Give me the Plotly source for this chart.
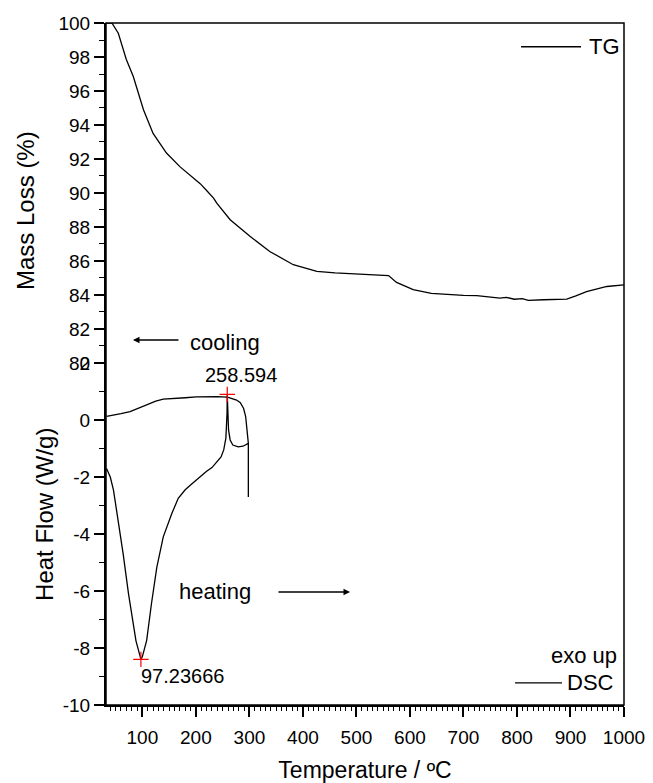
import plotly.graph_objects as go

# ---------------- data ----------------
tg_temp = [32, 43, 55, 70, 83, 102, 120, 145, 170, 190, 208, 220, 233, 239, 264, 301, 338, 382,
           426, 460, 494, 530, 560, 575, 606, 640, 675, 700, 725, 745, 768, 780, 795, 810, 821,
           850, 870, 893, 910, 930, 968, 1000]
tg_mass = [100.0, 100.0, 99.4, 97.85, 96.85, 94.9, 93.5, 92.35, 91.55, 91.05, 90.55, 90.15, 89.7,
           89.4, 88.43, 87.45, 86.56, 85.78, 85.39, 85.3, 85.24, 85.2, 85.14, 84.74, 84.31, 84.1,
           84.02, 83.98, 83.96, 83.9, 83.82, 83.86, 83.75, 83.78, 83.68, 83.72, 83.74, 83.76,
           83.95, 84.2, 84.5, 84.6]

dsc_heat_temp = [33, 40, 46, 55, 64, 74, 83, 88, 92, 95, 97.24, 100, 103, 108, 117, 127, 139, 155,
                 167, 180, 190, 200, 210, 220, 230, 240, 247, 252, 256, 258.2, 258.594, 261, 264,
                 269, 279, 288, 295, 298, 298]
dsc_heat_hf = [-1.70, -2.0, -2.46, -3.51, -4.69, -6.09, -7.26, -7.75, -8.03, -8.25, -8.4, -8.3,
               -8.1, -7.73, -6.44, -5.16, -4.1, -3.28, -2.75, -2.45, -2.28, -2.12, -1.93, -1.8,
               -1.67, -1.45, -1.3, -1.05, -0.64, 0.24, 0.9, -0.35, -0.70, -0.88, -0.94, -0.92,
               -0.85, -0.82, -2.7]

dsc_cool_temp = [298, 296, 293, 289, 283, 276, 270, 259, 240, 220, 201, 180, 160, 139, 125, 114,
                 100, 90, 77, 60, 45, 33]
dsc_cool_hf = [-0.82, -0.5, 0.12, 0.41, 0.61, 0.70, 0.74, 0.80, 0.82, 0.82, 0.81, 0.78, 0.76,
               0.73, 0.66, 0.58, 0.47, 0.38, 0.29, 0.22, 0.17, 0.13]

peak_temp = [258.594, 97.23666]
peak_hf = [0.9, -8.4]
peak_labels = ["258.594", "97.23666"]

x_ticks = [100, 200, 300, 400, 500, 600, 700, 800, 900, 1000]
tg_ticks = [80, 82, 84, 86, 88, 90, 92, 94, 96, 98, 100]
hf_ticks = [-10, -8, -6, -4, -2, 0, 2]
hf_ticktext = ["-10", "-8", "-6", "-4", "-2", "0", "2"]

FONT = "Liberation Sans, Arial, sans-serif"
LINE = dict(color="black", width=1.3)

fig = go.Figure()
fig.add_trace(go.Scatter(x=tg_temp, y=tg_mass, mode="lines", line=LINE,
                         xaxis="x", yaxis="y", name="TG", showlegend=False))
fig.add_trace(go.Scatter(x=dsc_heat_temp, y=dsc_heat_hf, mode="lines", line=LINE,
                         xaxis="x", yaxis="y2", name="DSC", showlegend=False))
fig.add_trace(go.Scatter(x=dsc_cool_temp, y=dsc_cool_hf, mode="lines", line=LINE,
                         xaxis="x", yaxis="y2", name="DSC cooling", showlegend=False))
fig.add_trace(go.Scatter(x=peak_temp, y=peak_hf, mode="markers",
                         marker=dict(symbol="cross-thin", size=11, color="red",
                                     line=dict(color="red", width=1.2)),
                         xaxis="x", yaxis="y2", showlegend=False))

split = 0.5015
tickfont = dict(family=FONT, size=19, color="black")

# page body has an 8px margin: figure is 645x775 so it fills the 653x783 window
fig.update_layout(
    width=645, height=775,
    margin=dict(l=98, r=29, t=15, b=78, autoexpand=False),
    plot_bgcolor="white", paper_bgcolor="white",
    font=dict(family=FONT, color="black"),
    xaxis=dict(range=[32, 1000], domain=[0, 1], anchor="y2",
               tickvals=x_ticks, ticks="outside", ticklen=10, tickwidth=1.5, tickcolor="black",
               ticklabelstandoff=4,
               minor=dict(dtick=10, tick0=0, ticks="outside", ticklen=4, tickwidth=1, tickcolor="black"),
               showline=True, linewidth=2, linecolor="black", showgrid=False, zeroline=False,
               tickfont=tickfont,
               title=dict(text="Temperature / ºC", font=dict(family=FONT, size=23), standoff=16)),
    yaxis=dict(range=[80, 100], domain=[split, 1], anchor="x",
               tickvals=tg_ticks, ticks="outside", ticklen=10, tickwidth=1.5, tickcolor="black",
               minor=dict(dtick=1, tick0=0, ticks="outside", ticklen=5, tickwidth=1, tickcolor="black"),
               showline=True, linewidth=2, linecolor="black", showgrid=False, zeroline=False,
               tickfont=tickfont),
    yaxis2=dict(range=[-10, 2], domain=[0, split], anchor="x",
                tickvals=hf_ticks, ticktext=hf_ticktext, ticks="outside", ticklen=10,
                tickwidth=1.5, tickcolor="black",
                minor=dict(dtick=1, tick0=0, ticks="outside", ticklen=5, tickwidth=1, tickcolor="black"),
                showline=True, linewidth=2, linecolor="black", showgrid=False, zeroline=False,
                tickfont=tickfont),
    showlegend=False,
)

# frame around the plot area
fig.add_shape(type="rect", xref="paper", yref="paper", x0=0, x1=1, y0=0, y1=1,
              line=dict(color="black", width=1.5), layer="above")

# legend-like keys
fig.add_shape(type="line", xref="paper", yref="paper", x0=0.8012, x1=0.917, y0=0.9652, y1=0.9652,
              line=dict(color="black", width=1.3))
fig.add_shape(type="line", xref="paper", yref="paper", x0=0.7896, x1=0.8803, y0=0.0323, y1=0.0323,
              line=dict(color="black", width=1.3))

ann = []
ann.append(dict(text="TG", xref="paper", yref="paper", x=0.9286, y=0.9652, xanchor="left",
                yanchor="middle", showarrow=False, font=dict(size=22)))
ann.append(dict(text="exo up", xref="paper", yref="paper", x=0.99, y=0.0733, xanchor="right",
                yanchor="middle", showarrow=False, font=dict(size=22)))
ann.append(dict(text="DSC", xref="paper", yref="paper", x=0.8861, y=0.0323, xanchor="left",
                yanchor="middle", showarrow=False, font=dict(size=22)))
# axis titles
ann.append(dict(text="Mass Loss (%)", xref="paper", yref="paper", x=-0.1564, y=0.7258,
                xanchor="center", yanchor="middle", textangle=-90, showarrow=False,
                font=dict(size=24)))
ann.append(dict(text="Heat Flow (W/g)", xref="paper", yref="paper", x=-0.1178, y=0.2801,
                xanchor="center", yanchor="middle", textangle=-90, showarrow=False,
                font=dict(size=24)))
# cooling / heating
ann.append(dict(text="cooling", xref="paper", yref="paper", x=0.1583, y=0.5308, xanchor="left",
                yanchor="middle", showarrow=False, font=dict(size=22)))
ann.append(dict(text="", xref="paper", yref="paper", x=0.0521, y=0.5352, ax=47, ay=0,
                showarrow=True, arrowhead=2, arrowsize=1, arrowwidth=1.3, arrowcolor="black"))
ann.append(dict(text="heating", xref="paper", yref="paper", x=0.1365, y=0.1657, xanchor="left",
                yanchor="middle", showarrow=False, font=dict(size=22)))
ann.append(dict(text="", xref="paper", yref="paper", x=0.471, y=0.1657, ax=-73, ay=0,
                showarrow=True, arrowhead=2, arrowsize=1, arrowwidth=1.3, arrowcolor="black"))
# peak labels
ann.append(dict(text=peak_labels[0], xref="x", yref="y2", x=peak_temp[0], y=peak_hf[0],
                xanchor="center", yanchor="middle", xshift=14, yshift=19, showarrow=False,
                font=dict(size=20)))
ann.append(dict(text=peak_labels[1], xref="x", yref="y2", x=peak_temp[1], y=peak_hf[1],
                xanchor="left", yanchor="middle", xshift=-2, yshift=-17, showarrow=False,
                font=dict(size=20)))
fig.update_layout(annotations=ann)

fig.write_html("out.html")
